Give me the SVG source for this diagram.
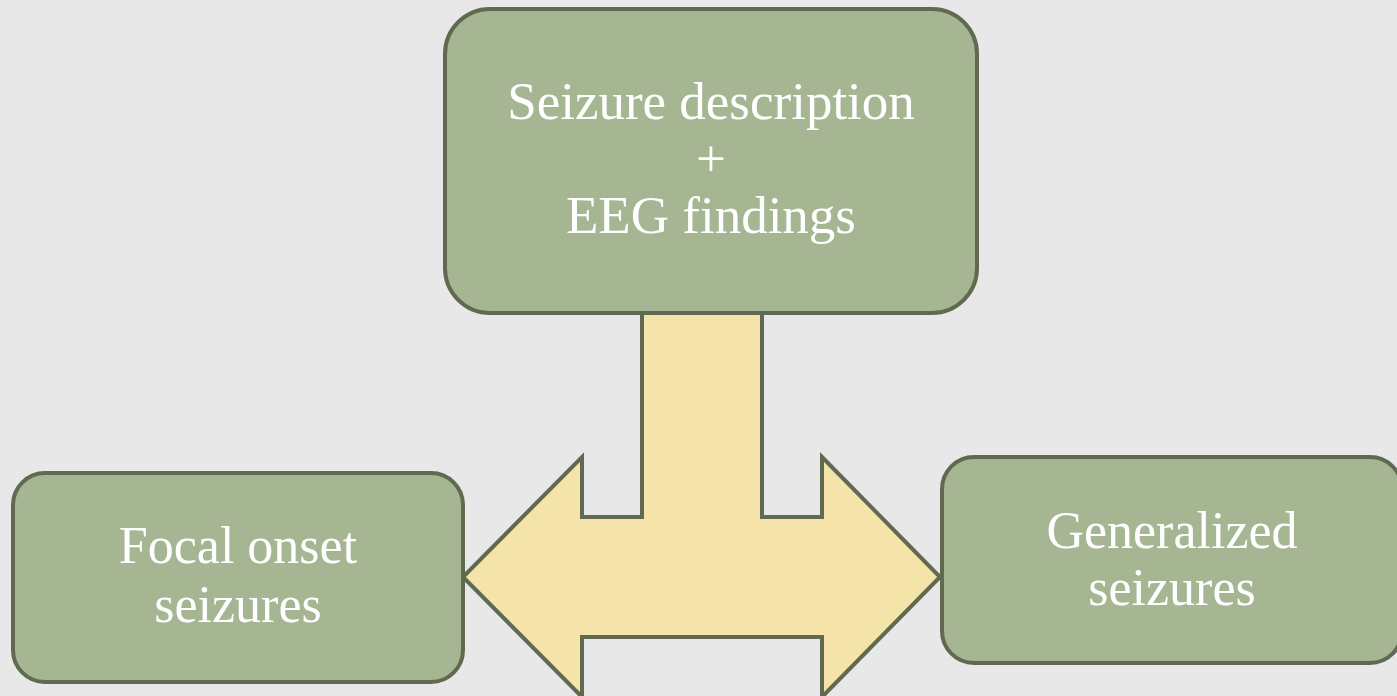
<svg xmlns="http://www.w3.org/2000/svg" width="1397" height="696" viewBox="0 0 1397 696">
<style>
.bg{fill:#e8e8e8}
.node{fill:#a6b592;stroke:#5f6a50;stroke-width:4}
.arrow{fill:#f5e4a9;stroke:#5f6a50;stroke-width:4;stroke-linejoin:miter}
.lbl{font-family:"Liberation Serif","DejaVu Serif",serif;font-size:52px;fill:#ffffff;text-anchor:middle}
.big{font-size:53px}
</style>
<rect class="bg" x="0" y="0" width="1397" height="696"/>
<g id="connectors">
<polygon class="arrow" points="642,313 762,313 762,517 822,517 822,457 940,577 822,697 822,637 582,637 582,697 463,577 582,457 582,517 642,517"/>
</g>
<g id="node-top">
<rect class="node" x="445" y="9" width="532" height="304" rx="45" ry="45"/>
<text class="lbl big" x="711" y="119">Seizure description</text>
<text class="lbl big" x="711" y="176">+</text>
<text class="lbl big" x="711" y="233">EEG findings</text>
</g>
<g id="node-focal">
<rect class="node" x="13" y="473" width="450" height="209" rx="32" ry="32"/>
<text class="lbl" x="238" y="563">Focal onset</text>
<text class="lbl" x="238" y="622">seizures</text>
</g>
<g id="node-generalized">
<rect class="node" x="942" y="457" width="460" height="206" rx="32" ry="32"/>
<text class="lbl" x="1172" y="548">Generalized</text>
<text class="lbl" x="1172" y="605">seizures</text>
</g>
</svg>
